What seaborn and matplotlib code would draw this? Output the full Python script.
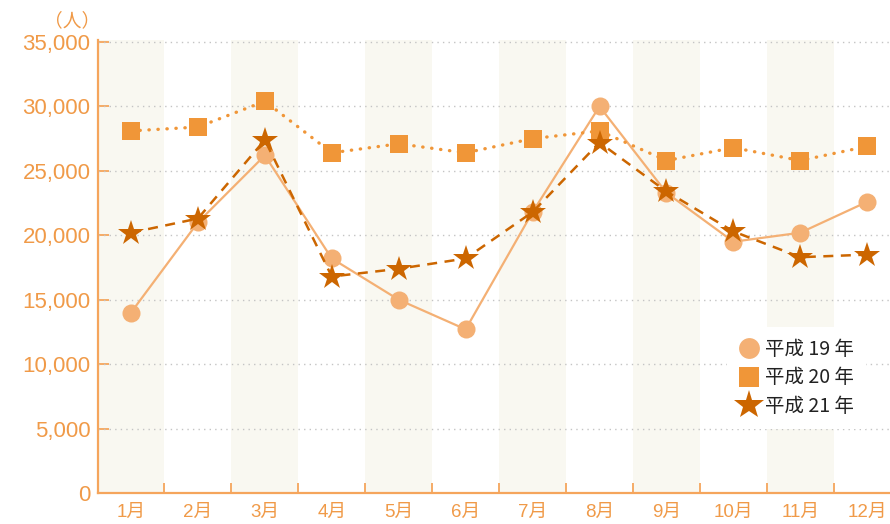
import matplotlib
matplotlib.use("Agg")
import matplotlib.pyplot as plt
from matplotlib.lines import Line2D
import numpy as np
import pandas as pd
import seaborn as sns

# Monthly visitor counts (persons)
months = ["1月", "2月", "3月", "4月", "5月", "6月", "7月", "8月", "9月", "10月", "11月", "12月"]
h19 = [14000, 21000, 26200, 18200, 15000, 12700, 21800, 30000, 23300, 19500, 20200, 22600]
h20 = [28100, 28400, 30400, 26400, 27100, 26400, 27500, 28100, 25800, 26800, 25800, 26900]
h21 = [20200, 21300, 27400, 16800, 17400, 18200, 21800, 27200, 23400, 20300, 18300, 18500]
series_labels = ["平成 19 年", "平成 20 年", "平成 21 年"]
y_ticks = [0, 5000, 10000, 15000, 20000, 25000, 30000, 35000]

sns.set_theme(style="white")
plt.rcParams["font.family"] = ["Liberation Sans", "Noto Sans CJK JP", "DejaVu Sans"]

C19 = "#f4b074"
C20 = "#f09638"
C21 = "#cc6600"
AXIS = "#f5a55c"
TXT = "#f09a48"

fig = plt.figure(figsize=(8.9, 5.24), dpi=100)
ax = fig.add_axes([97.5 / 890, 31 / 524, 1 - 97.5 / 890, 453 / 524])

x = np.arange(len(months))
df = pd.DataFrame({"month": x, "h19": h19, "h20": h20, "h21": h21})

# alternating column shading
for i in range(0, len(months), 2):
    ax.axvspan(i - 0.5, i + 0.5, color="#f9f8f1", zorder=0, lw=0)

# horizontal dotted grid
for v in y_ticks[1:]:
    ax.axhline(v, color="#c4c4c4", lw=1.0, linestyle=(0, (1, 3)), zorder=1)

sns.lineplot(data=df, x="month", y="h19", ax=ax, color=C19, lw=1.6,
             marker="o", markersize=13, markeredgewidth=0, zorder=3)
sns.lineplot(data=df, x="month", y="h20", ax=ax, color=C20, lw=2.4,
             linestyle=(0, (0.1, 2.6)), dash_capstyle="round",
             marker="s", markersize=13, markeredgewidth=0, zorder=4)
sns.lineplot(data=df, x="month", y="h21", ax=ax, color=C21, lw=1.8,
             linestyle=(0, (4, 3)), marker="*", markersize=19,
             markeredgewidth=0, zorder=5)

ax.set_xlim(-0.5, 11.34)
ax.set_ylim(0, 35155)
ax.set_xlabel("")
ax.set_ylabel("")

ax.set_xticks(x)
ax.set_xticklabels(months, color=TXT, fontsize=13.5)
ax.set_xticks(np.arange(0.5, 11, 1), minor=True)
ax.tick_params(axis="x", which="major", length=0, pad=8)
ax.tick_params(axis="x", which="minor", direction="in", length=7, width=1.3,
               color=AXIS, bottom=True)

ax.set_yticks(y_ticks)
ax.set_yticklabels([f"{v:,}" for v in y_ticks], color=TXT, fontsize=16)
ax.tick_params(axis="y", direction="in", length=8, width=1.3, color=AXIS,
               left=True, pad=5)

for side in ["top", "right"]:
    ax.spines[side].set_visible(False)
for side in ["left", "bottom"]:
    ax.spines[side].set_color(AXIS)
    ax.spines[side].set_linewidth(1.6)
ax.grid(False)

fig.text(72 / 890, 1 - 21 / 524, "（人）", color=TXT, fontsize=13.5,
         ha="center", va="center", family=["Noto Sans CJK JP", "DejaVu Sans"])

handles = [
    Line2D([], [], color=C19, marker="o", linestyle="none", markersize=15, markeredgewidth=0),
    Line2D([], [], color=C20, marker="s", linestyle="none", markersize=14, markeredgewidth=0),
    Line2D([], [], color=C21, marker="*", linestyle="none", markersize=22, markeredgewidth=0),
]
leg = ax.legend(handles, series_labels, loc="upper left",
                bbox_to_anchor=(0.794, 0.366), borderaxespad=0,
                frameon=True, fancybox=False, facecolor="white", edgecolor="none",
                framealpha=1, handlelength=1.07, handletextpad=0.29,
                labelspacing=0.39, borderpad=0.6,
                prop={"family": ["Noto Sans CJK JP", "DejaVu Sans"], "size": 14})
for t in leg.get_texts():
    t.set_color("#222222")
leg.set_zorder(6)

fig.savefig("out.png", dpi=100)
